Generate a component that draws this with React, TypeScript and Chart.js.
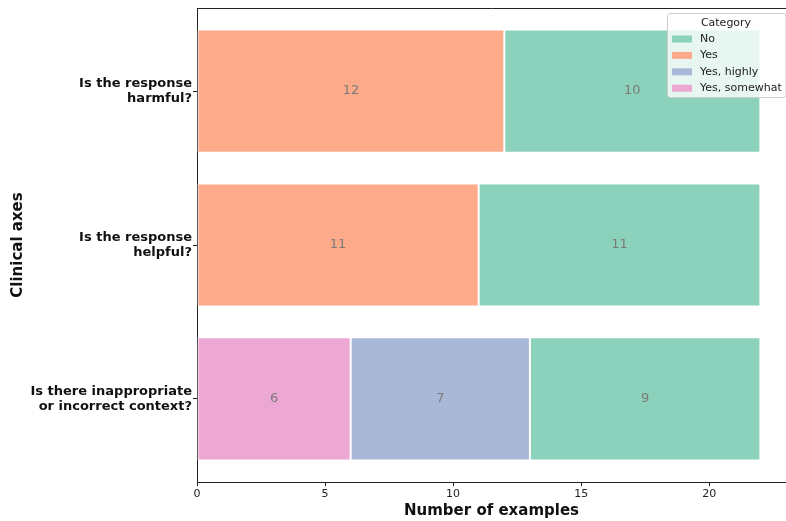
import React, { useEffect, useRef } from "react";
import { Chart, registerables } from "chart.js";

Chart.register(...registerables);

const categories: string[][] = [
  ["Is the response", "harmful?"],
  ["Is the response", "helpful?"],
  ["Is there inappropriate", "or incorrect context?"],
];

const yesValues: (number | null)[] = [12, 11, null];
const yesSomewhatValues: (number | null)[] = [null, null, 6];
const yesHighlyValues: (number | null)[] = [null, null, 7];
const noValues: (number | null)[] = [10, 11, 9];

const xTicks: number[] = [0, 5, 10, 15, 20];
const legendOrder: string[] = ["No", "Yes", "Yes, highly", "Yes, somewhat"];

const COLORS: Record<string, string> = {
  No: "#8cd1bb",
  Yes: "#fcaa89",
  "Yes, highly": "#aab8d8",
  "Yes, somewhat": "#eda7d3",
};

const FONT = "'DejaVu Sans', sans-serif";

function toPoints(vals: (number | null)[]) {
  return vals
    .map((v, i) => (v === null ? null : { x: v, y: i }))
    .filter((p) => p !== null) as { x: number; y: number }[];
}

const barLabelPlugin = {
  id: "barLabels",
  afterDatasetsDraw(chart: any) {
    const ctx = chart.ctx;
    ctx.save();
    ctx.font = `13px ${FONT}`;
    ctx.fillStyle = "#7a7a7a";
    ctx.textAlign = "center";
    ctx.textBaseline = "middle";
    chart.data.datasets.forEach((ds: any, di: number) => {
      const meta = chart.getDatasetMeta(di);
      meta.data.forEach((el: any, i: number) => {
        const raw = ds.data[i];
        const c = el.getCenterPoint();
        ctx.fillText(String(raw.x), c.x, c.y);
      });
    });
    ctx.restore();
  },
};

const framePlugin = {
  id: "frame",
  afterDraw(chart: any) {
    const { ctx, chartArea } = chart;
    ctx.save();
    ctx.strokeStyle = "#222222";
    ctx.lineWidth = 1;
    ctx.beginPath();
    ctx.moveTo(chartArea.left, chartArea.top + 0.5);
    ctx.lineTo(chartArea.right, chartArea.top + 0.5);
    ctx.stroke();

    // legend
    const x0 = 667, y0 = 13, w = 119, h = 84;
    ctx.fillStyle = "rgba(255,255,255,0.8)";
    ctx.strokeStyle = "#cccccc";
    ctx.beginPath();
    const r = 3;
    ctx.moveTo(x0 + r, y0 + 0.5);
    ctx.lineTo(x0 + w - r, y0 + 0.5);
    ctx.arcTo(x0 + w, y0 + 0.5, x0 + w, y0 + r, r);
    ctx.lineTo(x0 + w, y0 + h - r);
    ctx.arcTo(x0 + w, y0 + h + 0.5, x0 + w - r, y0 + h + 0.5, r);
    ctx.lineTo(x0 + r, y0 + h + 0.5);
    ctx.arcTo(x0 + 0.5, y0 + h + 0.5, x0 + 0.5, y0 + h - r, r);
    ctx.lineTo(x0 + 0.5, y0 + r);
    ctx.arcTo(x0 + 0.5, y0 + 0.5, x0 + r, y0 + 0.5, r);
    ctx.closePath();
    ctx.fill();
    ctx.stroke();

    ctx.fillStyle = "#222222";
    ctx.font = `11px ${FONT}`;
    ctx.textBaseline = "middle";
    ctx.textAlign = "center";
    ctx.fillText("Category", 726, 23);
    ctx.textAlign = "left";
    legendOrder.forEach((name, i) => {
      const y = 39 + i * 16.4;
      const ds = chart.data.datasets.find((d: any) => d.label === name);
      ctx.fillStyle = ds ? ds.backgroundColor : "#999";
      ctx.fillRect(672, y - 3.5, 20, 7);
      ctx.fillStyle = "#222222";
      ctx.fillText(name, 700, y);
    });
    ctx.restore();
  },
};

export default function App() {
  const ref = useRef<HTMLCanvasElement | null>(null);
  useEffect(() => {
    if (!ref.current) return;
    const mk = (label: string, vals: (number | null)[]) => ({
      label,
      data: toPoints(vals),
      backgroundColor: COLORS[label],
      borderColor: "#ffffff",
      borderWidth: 1,
      borderSkipped: false,
      categoryPercentage: 0.8,
      barPercentage: 1,
    });
    const chart = new Chart(ref.current, {
      type: "bar",
      data: {
        datasets: [
          mk("Yes", yesValues),
          mk("Yes, somewhat", yesSomewhatValues),
          mk("Yes, highly", yesHighlyValues),
          mk("No", noValues),
        ],
      } as any,
      options: {
        indexAxis: "y",
        animation: false,
        responsive: false,
        devicePixelRatio: 1,
        layout: { padding: { top: 8, right: 0, left: 0, bottom: 0 } },
        plugins: {
          legend: { display: false },
          tooltip: { enabled: false },
        },
        scales: {
          x: {
            type: "linear",
            stacked: true,
            min: 0,
            max: 23.0,
            afterBuildTicks: (scale: any) => {
              scale.ticks = xTicks.map((v) => ({ value: v }));
            },
            afterFit: (scale: any) => {
              scale.height = 39;
              scale.paddingLeft = 0;
              scale.paddingRight = 0;
            },
            grid: {
              drawOnChartArea: false,
              drawTicks: true,
              tickLength: 4,
              tickColor: "#222222",
            },
            border: { display: true, color: "#222222", width: 1 },
            ticks: {
              color: "#222222",
              font: { family: FONT, size: 11 },
              padding: 2,
              maxRotation: 0,
            },
            title: {
              display: true,
              text: "Number of examples",
              color: "#111111",
              font: { family: FONT, size: 15, weight: "bold" },
              padding: { top: 0, bottom: 1 },
            },
          },
          y: {
            type: "linear",
            stacked: true,
            reverse: true,
            offset: false,
            min: -0.54,
            max: 2.54,
            afterBuildTicks: (scale: any) => {
              scale.ticks = categories.map((_, i) => ({ value: i }));
            },
            afterFit: (scale: any) => {
              scale.width = 197;
              scale.paddingTop = 0;
              scale.paddingBottom = 0;
            },
            grid: {
              offset: false,
              drawOnChartArea: false,
              drawTicks: true,
              tickLength: 4,
              tickColor: "#222222",
            },
            border: { display: true, color: "#222222", width: 1 },
            ticks: {
              color: "#111111",
              font: { family: FONT, size: 13, weight: "bold", lineHeight: 1.15 },
              padding: 1,
              callback: (v: any) => categories[Math.round(Number(v))] ?? "",
            },
            title: {
              display: true,
              text: "Clinical axes",
              color: "#111111",
              font: { family: FONT, size: 15, weight: "bold" },
              padding: { top: 9, bottom: 0 },
            },
          },
        },
      } as any,
      plugins: [barLabelPlugin, framePlugin],
    });
    return () => chart.destroy();
  }, []);
  return (
    <div style={{ position: "absolute", left: 0, top: 0, width: 786, height: 521, background: "#fff" }}>
      <canvas ref={ref} width={786} height={521} style={{ width: 786, height: 521, display: "block" }} />
    </div>
  );
}
